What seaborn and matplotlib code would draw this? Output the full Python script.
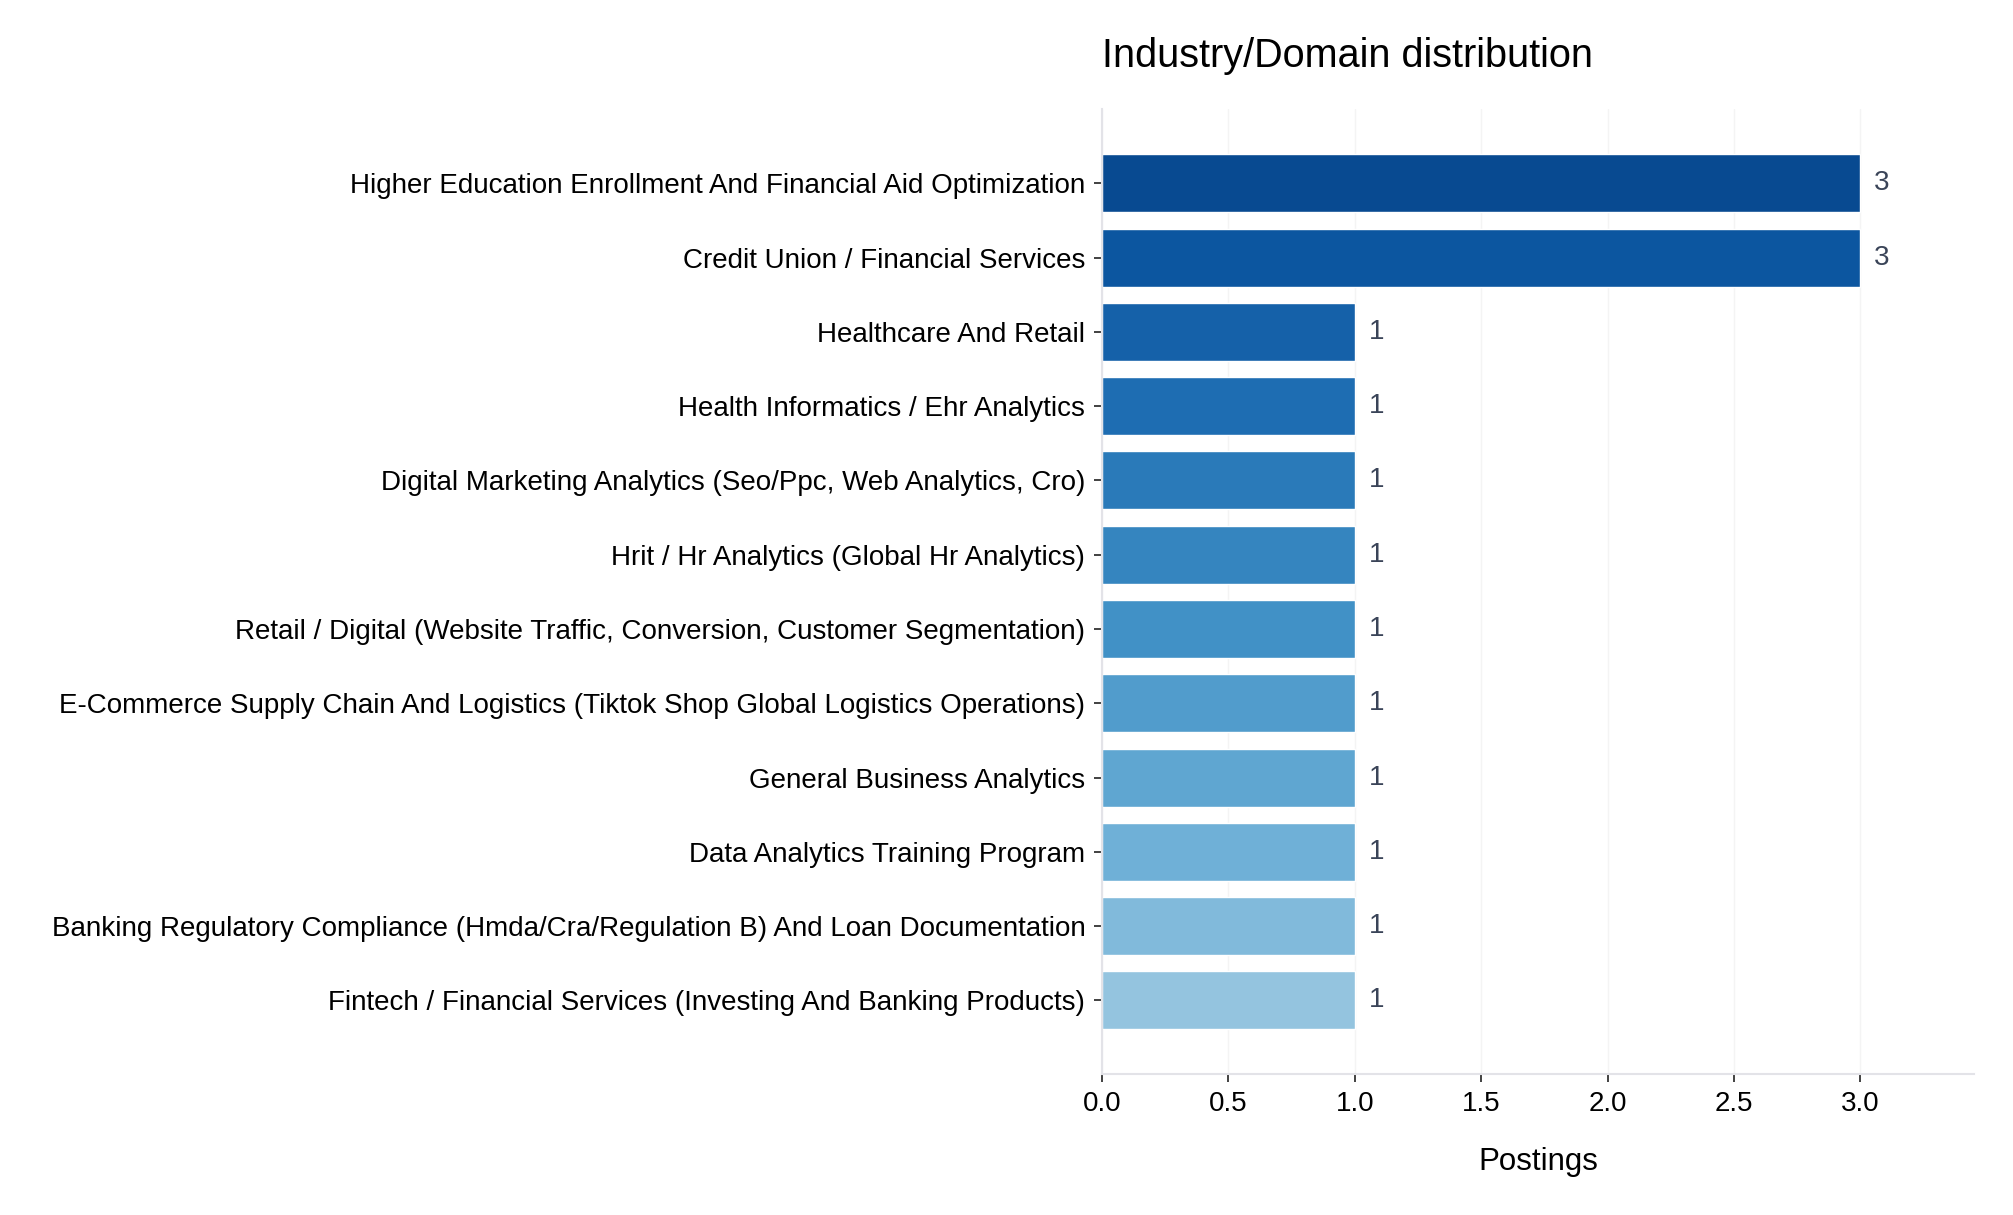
import matplotlib
matplotlib.use("Agg")
import matplotlib.pyplot as plt
import seaborn as sns
import numpy as np
import pandas as pd

categories = [
    "Higher Education Enrollment And Financial Aid Optimization",
    "Credit Union / Financial Services",
    "Healthcare And Retail",
    "Health Informatics / Ehr Analytics",
    "Digital Marketing Analytics (Seo/Ppc, Web Analytics, Cro)",
    "Hrit / Hr Analytics (Global Hr Analytics)",
    "Retail / Digital (Website Traffic, Conversion, Customer Segmentation)",
    "E-Commerce Supply Chain And Logistics (Tiktok Shop Global Logistics Operations)",
    "General Business Analytics",
    "Data Analytics Training Program",
    "Banking Regulatory Compliance (Hmda/Cra/Regulation B) And Loan Documentation",
    "Fintech / Financial Services (Investing And Banking Products)",
]
postings = [3, 3, 1, 1, 1, 1, 1, 1, 1, 1, 1, 1]

sns.set_theme(style="white")
plt.rcParams['font.family'] = ['Liberation Sans', 'DejaVu Sans']
plt.rcParams['xtick.bottom'] = True
plt.rcParams['ytick.left'] = True

df = pd.DataFrame({"Industry": categories, "Postings": postings})
cmap = plt.get_cmap("Blues")
palette = [cmap(v) for v in np.linspace(0.9, 0.4, len(categories))]

fig = plt.figure(figsize=(20.13, 12.15), dpi=100)
ax = fig.add_axes([1102/2013, 1 - 1074/1215, (1974-1102)/2013, (1074-109)/1215])

sns.barplot(data=df, y="Industry", x="Postings", hue="Industry", palette=palette,
            legend=False, ax=ax, width=0.78, saturation=1, orient="h")

for i, v in enumerate(postings):
    ax.text(v + 0.055, i, f"{v}", va="center", ha="left", fontsize=20, color="#3a4458")

ax.set_xlim(0, 3.45)
ax.set_ylim(len(categories) - 0.01, -1.0)
ax.set_xticks([0, 0.5, 1.0, 1.5, 2.0, 2.5, 3.0])
ax.set_xticklabels(["0.0", "0.5", "1.0", "1.5", "2.0", "2.5", "3.0"])
ax.set_ylabel("")
ax.set_xlabel("Postings", fontsize=22.5, labelpad=22, color="black")
ax.set_title("Industry/Domain distribution", fontsize=28.5, loc="left", pad=30, color="black")
ax.tick_params(axis="both", labelsize=20, labelcolor="black", length=6, width=1.3,
               color="#333333", pad=6)
ax.grid(axis="x", color="#f4f4f4", linewidth=1)
ax.set_axisbelow(True)
for s in ["top", "right"]:
    ax.spines[s].set_visible(False)
for s in ["left", "bottom"]:
    ax.spines[s].set_color("#e3e3e8")
    ax.spines[s].set_linewidth(1.5)

fig.savefig("out.png", dpi=100)
